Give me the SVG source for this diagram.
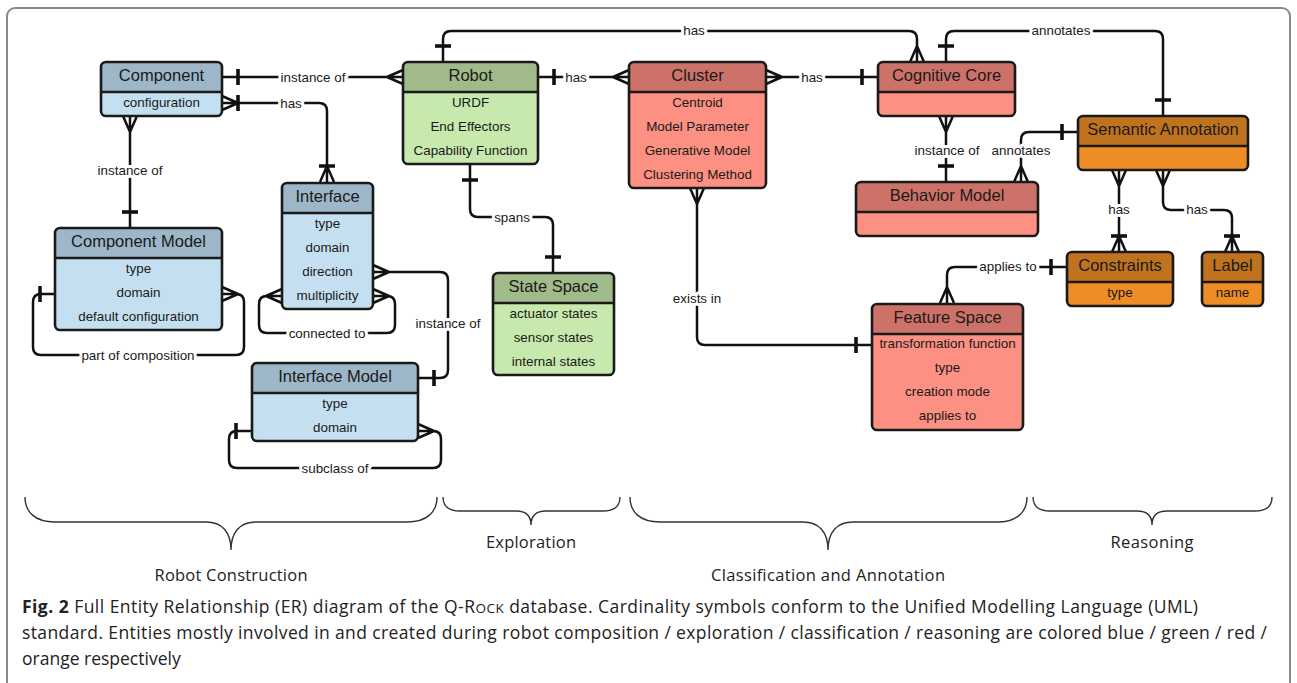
<svg xmlns="http://www.w3.org/2000/svg" width="1297" height="683" viewBox="0 0 1297 683">
  <style>
    .frame { fill: #fff; stroke: #8a8a8a; stroke-width: 2; }
    .outline { fill: none; stroke: #1a1a1a; stroke-width: 2.6; }
    .divider { stroke: #1a1a1a; stroke-width: 2.6; }
    .title { font-family: "Liberation Sans", Arial, sans-serif; font-size: 16.5px; fill: #1a1a1a; text-anchor: middle; }
    .attr { font-family: "Liberation Sans", Arial, sans-serif; font-size: 13.4px; fill: #1a1a1a; text-anchor: middle; }
    .blue .hd { fill: #9db6c8; } .blue .bd { fill: #c4e0f0; }
    .green .hd { fill: #a0bb89; } .green .bd { fill: #c8e9ad; }
    .red .hd { fill: #cc7268; } .red .bd { fill: #fc9083; }
    .orange .hd { fill: #c0731f; } .orange .bd { fill: #ee8d26; }
    .line { fill: none; stroke: #111; stroke-width: 2.5; stroke-linejoin: round; }
    .bar { fill: none; stroke: #111; stroke-width: 3.6; }
    .lbl { font-family: "Liberation Sans", Arial, sans-serif; font-size: 13.4px; fill: #1a1a1a; text-anchor: middle; stroke: #fff; stroke-width: 6; paint-order: stroke; stroke-linejoin: round; }
    .brace { fill: none; stroke: #333; stroke-width: 1.4; }
    .phase { font-family: "Open Sans", "DejaVu Sans", sans-serif; font-size: 16.5px; fill: #222; text-anchor: middle; }
    .cap { font-family: "Open Sans", "Noto Sans", sans-serif; font-size: 17.5px; fill: #222; }
  </style>

  <!-- figure frame -->
  <rect class="frame" x="7" y="8" width="1283" height="700" rx="8"/>

  <!-- relationships -->
  <g id="connectors">
    <!-- Component - Robot : instance of -->
    <path class="line" d="M222,77 H403 M403,70 L387,77 L403,84"/>
    <path class="bar" d="M238,69 V85"/>
    <text class="lbl" x="313" y="81.5">instance of</text>

    <!-- Component - Interface : has -->
    <path class="line" d="M222,103 H319 Q327,103 327,111 V182 M222,96 L238,103 L222,110 M320,182 L327,166 L334,182"/>
    <path class="bar" d="M238,95 V111 M319,166 H335"/>
    <text class="lbl" x="291" y="107.5">has</text>

    <!-- Component - Component Model : instance of -->
    <path class="line" d="M130,116 V228 M123,116 L130,132 L137,116"/>
    <path class="bar" d="M122,212 H138"/>
    <text class="lbl" x="130" y="174.5">instance of</text>

    <!-- Component Model : part of composition -->
    <path class="line" d="M55,294 H41 Q33,294 33,302 V347 Q33,355 41,355 H236 Q244,355 244,347 V302 Q244,294 236,294 H222 M222,287 L238,294 L222,301"/>
    <path class="bar" d="M40,286 V302"/>
    <text class="lbl" x="138" y="359.5">part of composition</text>

    <!-- Interface : connected to -->
    <path class="line" d="M282,296 H267 Q259,296 259,304 V325 Q259,333 267,333 H387 Q395,333 395,325 V304 Q395,296 387,296 H373 M282,289 L266,296 L282,303 M373,289 L389,296 L373,303"/>
    <text class="lbl" x="327" y="337.5">connected to</text>

    <!-- Interface - Interface Model : instance of -->
    <path class="line" d="M373,272 H440 Q448,272 448,280 V370 Q448,378 440,378 H418 M373,265 L389,272 L373,279"/>
    <path class="bar" d="M434,370 V386"/>
    <text class="lbl" x="448" y="327.5">instance of</text>

    <!-- Interface Model : subclass of -->
    <path class="line" d="M252,431 H237 Q229,431 229,439 V460 Q229,468 237,468 H433 Q441,468 441,460 V439 Q441,431 433,431 H418 M418,424 L434,431 L418,438"/>
    <path class="bar" d="M236,423 V439"/>
    <text class="lbl" x="335" y="472.5">subclass of</text>

    <!-- Robot - Cluster : has -->
    <path class="line" d="M538,77 H629 M629,70 L613,77 L629,84"/>
    <path class="bar" d="M554,69 V85"/>
    <text class="lbl" x="576" y="81.5">has</text>

    <!-- Robot - State Space : spans -->
    <path class="line" d="M470,164 V209 Q470,217 478,217 H545 Q553,217 553,225 V273"/>
    <path class="bar" d="M462,180 H478 M545,257 H561"/>
    <text class="lbl" x="512" y="221.5">spans</text>

    <!-- Robot - Cognitive Core : has -->
    <path class="line" d="M443,62 V39 Q443,31 451,31 H909 Q917,31 917,39 V62 M910,62 L917,46 L924,62"/>
    <path class="bar" d="M435,46 H451"/>
    <text class="lbl" x="694" y="35">has</text>

    <!-- Cluster - Cognitive Core : has -->
    <path class="line" d="M766,77 H878 M766,70 L782,77 L766,84"/>
    <path class="bar" d="M862,69 V85"/>
    <text class="lbl" x="812" y="81.5">has</text>

    <!-- Cognitive Core - Semantic Annotation : annotates -->
    <path class="line" d="M946,62 V39 Q946,31 954,31 H1155 Q1163,31 1163,39 V116"/>
    <path class="bar" d="M938,46 H954 M1155,100 H1171"/>
    <text class="lbl" x="1061" y="35">annotates</text>

    <!-- Cognitive Core - Behavior Model : instance of -->
    <path class="line" d="M946,116 V182 M939,116 L946,132 L953,116"/>
    <path class="bar" d="M938,166 H954"/>
    <text class="lbl" x="947" y="154.5">instance of</text>

    <!-- Semantic Annotation - Behavior Model : annotates -->
    <path class="line" d="M1078,132 H1029 Q1021,132 1021,140 V182 M1014,182 L1021,166 L1028,182"/>
    <path class="bar" d="M1062,124 V140"/>
    <text class="lbl" x="1021" y="154.5">annotates</text>

    <!-- Semantic Annotation - Constraints : has -->
    <path class="line" d="M1119,170 V252 M1112,170 L1119,186 L1126,170 M1112,252 L1119,236 L1126,252"/>
    <path class="bar" d="M1111,236 H1127"/>
    <text class="lbl" x="1119" y="213.5">has</text>

    <!-- Semantic Annotation - Label : has -->
    <path class="line" d="M1163,170 V202 Q1163,210 1171,210 H1224 Q1232,210 1232,218 V252 M1156,170 L1163,186 L1170,170 M1225,252 L1232,236 L1239,252"/>
    <path class="bar" d="M1224,236 H1240"/>
    <text class="lbl" x="1197" y="213.5">has</text>

    <!-- Constraints - Feature Space : applies to -->
    <path class="line" d="M1067,267 H955 Q947,267 947,275 V303 M940,303 L947,287 L954,303"/>
    <path class="bar" d="M1051,259 V275"/>
    <text class="lbl" x="1008" y="270.5">applies to</text>

    <!-- Cluster - Feature Space : exists in -->
    <path class="line" d="M697,188 V337 Q697,345 705,345 H872 M690,188 L697,204 L704,188"/>
    <path class="bar" d="M856,337 V353"/>
    <text class="lbl" x="697" y="302.5">exists in</text>
  </g>

  <!-- entities -->
  <g id="component" class="blue">
    <rect class="bd" x="101" y="62" width="121" height="54" rx="5"/>
    <path class="hd" d="M101,92 V67 Q101,62 106,62 H217 Q222,62 222,67 V92 Z"/>
    <line class="divider" x1="101" y1="92" x2="222" y2="92"/>
    <rect class="outline" x="101" y="62" width="121" height="54" rx="5"/>
    <text class="title" x="161.5" y="81">Component</text>
    <text class="attr" x="161.5" y="106.5">configuration</text>
  </g>

  <g id="robot" class="green">
    <rect class="bd" x="403" y="62" width="135" height="102" rx="5"/>
    <path class="hd" d="M403,92 V67 Q403,62 408,62 H533 Q538,62 538,67 V92 Z"/>
    <line class="divider" x1="403" y1="92" x2="538" y2="92"/>
    <rect class="outline" x="403" y="62" width="135" height="102" rx="5"/>
    <text class="title" x="470.5" y="81">Robot</text>
    <text class="attr" x="470.5" y="106.5">URDF</text>
    <text class="attr" x="470.5" y="130.5">End Effectors</text>
    <text class="attr" x="470.5" y="154.5">Capability Function</text>
  </g>

  <g id="cluster" class="red">
    <rect class="bd" x="629" y="62" width="137" height="126" rx="5"/>
    <path class="hd" d="M629,92 V67 Q629,62 634,62 H761 Q766,62 766,67 V92 Z"/>
    <line class="divider" x1="629" y1="92" x2="766" y2="92"/>
    <rect class="outline" x="629" y="62" width="137" height="126" rx="5"/>
    <text class="title" x="697.5" y="81">Cluster</text>
    <text class="attr" x="697.5" y="106.5">Centroid</text>
    <text class="attr" x="697.5" y="130.5">Model Parameter</text>
    <text class="attr" x="697.5" y="154.5">Generative Model</text>
    <text class="attr" x="697.5" y="178.5">Clustering Method</text>
  </g>

  <g id="cognitive-core" class="red">
    <rect class="bd" x="878" y="62" width="137" height="54" rx="5"/>
    <path class="hd" d="M878,92 V67 Q878,62 883,62 H1010 Q1015,62 1015,67 V92 Z"/>
    <line class="divider" x1="878" y1="92" x2="1015" y2="92"/>
    <rect class="outline" x="878" y="62" width="137" height="54" rx="5"/>
    <text class="title" x="946.5" y="81">Cognitive Core</text>
  </g>

  <g id="semantic-annotation" class="orange">
    <rect class="bd" x="1078" y="116" width="170" height="54" rx="5"/>
    <path class="hd" d="M1078,146 V121 Q1078,116 1083,116 H1243 Q1248,116 1248,121 V146 Z"/>
    <line class="divider" x1="1078" y1="146" x2="1248" y2="146"/>
    <rect class="outline" x="1078" y="116" width="170" height="54" rx="5"/>
    <text class="title" x="1163" y="135">Semantic Annotation</text>
  </g>

  <g id="behavior-model" class="red">
    <rect class="bd" x="856" y="182" width="182" height="54" rx="5"/>
    <path class="hd" d="M856,212 V187 Q856,182 861,182 H1033 Q1038,182 1038,187 V212 Z"/>
    <line class="divider" x1="856" y1="212" x2="1038" y2="212"/>
    <rect class="outline" x="856" y="182" width="182" height="54" rx="5"/>
    <text class="title" x="947" y="201">Behavior Model</text>
  </g>

  <g id="component-model" class="blue">
    <rect class="bd" x="55" y="228" width="167" height="102" rx="5"/>
    <path class="hd" d="M55,258 V233 Q55,228 60,228 H217 Q222,228 222,233 V258 Z"/>
    <line class="divider" x1="55" y1="258" x2="222" y2="258"/>
    <rect class="outline" x="55" y="228" width="167" height="102" rx="5"/>
    <text class="title" x="138.5" y="247">Component Model</text>
    <text class="attr" x="138.5" y="272.5">type</text>
    <text class="attr" x="138.5" y="296.5">domain</text>
    <text class="attr" x="138.5" y="320.5">default configuration</text>
  </g>

  <g id="interface" class="blue">
    <rect class="bd" x="282" y="183" width="91" height="126" rx="5"/>
    <path class="hd" d="M282,213 V188 Q282,183 287,183 H368 Q373,183 373,188 V213 Z"/>
    <line class="divider" x1="282" y1="213" x2="373" y2="213"/>
    <rect class="outline" x="282" y="183" width="91" height="126" rx="5"/>
    <text class="title" x="327.5" y="202">Interface</text>
    <text class="attr" x="327.5" y="227.5">type</text>
    <text class="attr" x="327.5" y="251.5">domain</text>
    <text class="attr" x="327.5" y="275.5">direction</text>
    <text class="attr" x="327.5" y="299.5">multiplicity</text>
  </g>

  <g id="interface-model" class="blue">
    <rect class="bd" x="252" y="363" width="166" height="78" rx="5"/>
    <path class="hd" d="M252,393 V368 Q252,363 257,363 H413 Q418,363 418,368 V393 Z"/>
    <line class="divider" x1="252" y1="393" x2="418" y2="393"/>
    <rect class="outline" x="252" y="363" width="166" height="78" rx="5"/>
    <text class="title" x="335" y="382">Interface Model</text>
    <text class="attr" x="335" y="408">type</text>
    <text class="attr" x="335" y="432">domain</text>
  </g>

  <g id="state-space" class="green">
    <rect class="bd" x="493" y="273" width="121" height="102" rx="5"/>
    <path class="hd" d="M493,303 V278 Q493,273 498,273 H609 Q614,273 614,278 V303 Z"/>
    <line class="divider" x1="493" y1="303" x2="614" y2="303"/>
    <rect class="outline" x="493" y="273" width="121" height="102" rx="5"/>
    <text class="title" x="553.5" y="292">State Space</text>
    <text class="attr" x="553.5" y="317.5">actuator states</text>
    <text class="attr" x="553.5" y="341.5">sensor states</text>
    <text class="attr" x="553.5" y="365.5">internal states</text>
  </g>

  <g id="feature-space" class="red">
    <rect class="bd" x="872" y="304" width="151" height="126" rx="5"/>
    <path class="hd" d="M872,334 V309 Q872,304 877,304 H1018 Q1023,304 1023,309 V334 Z"/>
    <line class="divider" x1="872" y1="334" x2="1023" y2="334"/>
    <rect class="outline" x="872" y="304" width="151" height="126" rx="5"/>
    <text class="title" x="947.5" y="323">Feature Space</text>
    <text class="attr" x="947.5" y="348">transformation function</text>
    <text class="attr" x="947.5" y="372">type</text>
    <text class="attr" x="947.5" y="396">creation mode</text>
    <text class="attr" x="947.5" y="420">applies to</text>
  </g>

  <g id="constraints" class="orange">
    <rect class="bd" x="1067" y="252" width="106" height="54" rx="5"/>
    <path class="hd" d="M1067,282 V257 Q1067,252 1072,252 H1168 Q1173,252 1173,257 V282 Z"/>
    <line class="divider" x1="1067" y1="282" x2="1173" y2="282"/>
    <rect class="outline" x="1067" y="252" width="106" height="54" rx="5"/>
    <text class="title" x="1120" y="271">Constraints</text>
    <text class="attr" x="1120" y="297">type</text>
  </g>

  <g id="label" class="orange">
    <rect class="bd" x="1202" y="252" width="61" height="54" rx="5"/>
    <path class="hd" d="M1202,282 V257 Q1202,252 1207,252 H1258 Q1263,252 1263,257 V282 Z"/>
    <line class="divider" x1="1202" y1="282" x2="1263" y2="282"/>
    <rect class="outline" x="1202" y="252" width="61" height="54" rx="5"/>
    <text class="title" x="1232.5" y="271">Label</text>
    <text class="attr" x="1232.5" y="297">name</text>
  </g>

  <!-- phase braces -->
  <g id="phases">
    <path class="brace" d="M25,497 C25,512 35,522 55,522 H206 C222,522 231,532 231,550 C231,532 240,522 256,522 H407 C427,522 437,512 437,497"/>
    <path class="brace" d="M443,497 C443,506 449,511 460,511 H516 C526,511 531,516 531,525 C531,516 536,511 546,511 H603 C614,511 620,506 620,497"/>
    <path class="brace" d="M630,497 C630,512 640,522 660,522 H803 C819,522 828,532 828,550 C828,532 837,522 853,522 H997 C1017,522 1027,512 1027,497"/>
    <path class="brace" d="M1033,497 C1033,506 1039,511 1050,511 H1137 C1147,511 1152,516 1152,525 C1152,516 1157,511 1167,511 H1255 C1266,511 1272,506 1272,497"/>
    <text class="phase" x="231" y="581" textLength="153">Robot Construction</text>
    <text class="phase" x="531" y="548" textLength="90">Exploration</text>
    <text class="phase" x="828" y="581" textLength="234">Classification and Annotation</text>
    <text class="phase" x="1152" y="548" textLength="83">Reasoning</text>
  </g>

  <!-- caption -->
  <g id="caption">
    <text class="cap" x="22" y="613" textLength="1176"><tspan font-weight="bold">Fig. 2</tspan> Full Entity Relationship (ER) diagram of the Q-R<tspan font-size="13.5">OCK</tspan> database. Cardinality symbols conform to the Unified Modelling Language (UML)</text>
    <text class="cap" x="22" y="639" textLength="1245">standard. Entities mostly involved in and created during robot composition / exploration / classification / reasoning are colored blue / green / red /</text>
    <text class="cap" x="22" y="665">orange respectively</text>
  </g>
</svg>
